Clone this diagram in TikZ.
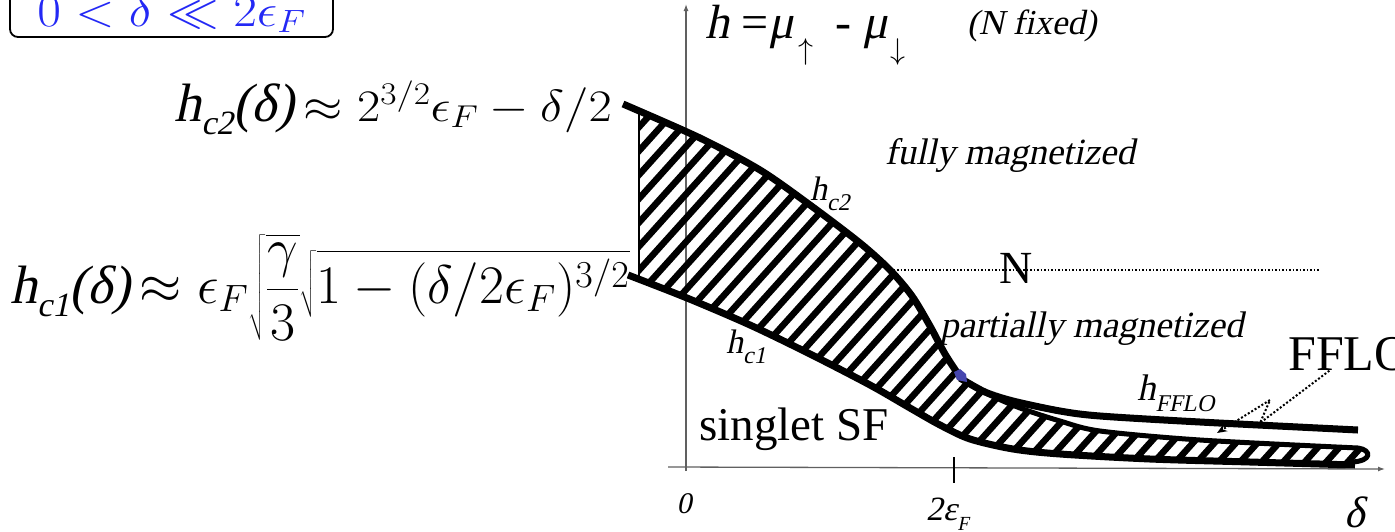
\RequirePackage{fix-cm}
\documentclass[tikz,border=0pt]{standalone}
\usepackage[no-math]{fontspec}
\setmainfont{Liberation Serif}[ItalicFont={Liberation Serif}, ItalicFeatures={FakeSlant=0.21}]
\usepackage{graphicx}
\usetikzlibrary{arrows.meta}

\definecolor{condblue}{RGB}{35,40,245}
\definecolor{critblue}{RGB}{70,70,175}
\newcommand{\fsz}[1]{\fontsize{#1}{#1}\selectfont}

\tikzset{
  axisline/.style={draw=gray!75!black, line width=1.3pt},
  phaseline/.style={line width=7pt, line join=round},
  hatchline/.style={line width=6.5pt},
  lbl/.style={inner sep=0pt},
  phase/.style={lbl, font=\fsz{37}\itshape},
}

\begin{document}
\begin{tikzpicture}[x=1pt, y=-1pt]
    \useasboundingbox (0,0) rectangle (1395,531);

    % axes
    \draw[axisline, -{Latex[length=7pt,width=5pt]}] (686,471) -- (686,4);
    \draw[axisline, -{Latex[length=7pt,width=5pt]}] (668,467) -- (1385,469);
    \draw[line width=2pt] (954,457) -- (954,483);

    % mixed phase (hatched)
    \begin{scope}
        \clip plot[smooth] coordinates {(639,111) (700,138) (760,170) (810,205) (860,243) (890,270) (912,296) (930,326) (945,354) (960,377)}
            -- plot[smooth] coordinates {(960,379) (990,395) (1020,408) (1060,421) (1100,431) (1200,440) (1358,448)}
            .. controls (1372,450) and (1372,461) .. (1352,462)
            -- plot[smooth] coordinates {(1352,463) (1250,460) (1150,457) (1060,452) (1013,447) (970,437) (940,423) (910,406) (870,383) (810,352) (750,323) (687,296) (639,278)}
            -- cycle;
        \foreach \i in {0,...,52}
            \draw[hatchline] ({260+21.5*\i},500) -- ++(600,-666);
    \end{scope}

    % phase boundaries
    \draw[phaseline] plot[smooth] coordinates {(623,104) (700,138) (760,170) (810,205) (860,243) (890,270) (912,296) (930,326) (945,354) (960,377)};
    \draw[phaseline] plot[smooth] coordinates {(960,378) (985,392) (1013,401) (1060,411) (1100,416) (1200,422) (1358,430)};
    \draw[phaseline, line width=5pt] plot[smooth] coordinates {(960,379) (990,395) (1020,408) (1060,421) (1100,431) (1200,440) (1358,448)}
        .. controls (1372,450) and (1372,461) .. (1352,462);
    \draw[phaseline] plot[smooth] coordinates {(628,275) (687,298) (750,325) (810,354) (870,385) (910,408) (940,425) (970,439) (1013,449) (1060,454) (1150,459) (1250,462) (1355,465)};
    \draw[line width=1.5pt] (639,111) -- (639,281);
    \fill[critblue] (954,372) -- (960,369) -- (966,374) -- (967,382) -- (957,380) -- cycle;

    % condition box
    \node[draw, rounded corners=8pt, line width=1.8pt, anchor=base, text=condblue,
          text height=40pt, text depth=8pt, inner xsep=0pt, inner ysep=3pt,
          minimum width=323pt] (cond) at (171.5,26)
        {\fsz{46}\scalebox{1.12}[1]{$0<\delta\ll2\epsilon_F$}};

    % critical fields
    \node[lbl, anchor=base east] (hctwoformula) at (612,121)
        {\fsz{54}\itshape h\raisebox{-0.25em}{\fsz{34}c2}(δ)\,\resizebox{308pt}{40pt}{$\approx 2^{3/2}\epsilon_F-\delta/2$}};
    \node[lbl, anchor=base west] (hconeformula) at (10,303)
        {\fsz{54}\itshape h\raisebox{-0.25em}{\fsz{34}c1}(δ)\,\resizebox{490pt}{!}{\fsz{34}$\displaystyle\approx \epsilon_F\sqrt{\frac{\gamma}{3}}\sqrt{1-(\delta/2\epsilon_F)^{3/2}}$}};

    % axis titles
    \node[lbl, anchor=base west] (hdef) at (705,38)
        {\fsz{48}\textit{h}\hspace{12pt}=\textit{μ}\hspace{4pt}\raisebox{-0.45em}{\fsz{30}$\uparrow$}\hspace{22pt}-\hspace{12pt}\textit{μ}\hspace{2pt}\raisebox{-0.45em}{\fsz{30}$\downarrow$}};
    \node[lbl, anchor=base west] (nfixed) at (967,34) {\fsz{35}\itshape (N fixed)};
    \node[lbl, anchor=base] (zero) at (684,513) {\fsz{30}\itshape 0};
    \node[lbl, anchor=base west] (twoeF) at (926,520) {\fsz{34}\itshape 2ε\raisebox{-0.3em}{\fsz{20}F}};
    \node[lbl, anchor=base] (delta) at (1355,527) {\fsz{44}\itshape δ};

    % phases
    \node[phase, anchor=base] (full) at (1010,164) {fully magnetized};
    \node[phase, anchor=base west] (partial) at (940,337) {partially magnetized};
    \node[lbl, anchor=base west] (singlet) at (699,440) {\fsz{47}singlet SF};
    \node[lbl, anchor=base west] (fflo) at (1288,370) {\fsz{50}FFLO};

    \coordinate (nleft) at (890,270);
    \coordinate (nright) at (1320,270);
    \draw[dotted, line width=1.5pt] (nleft) -- (nright);
    \node[lbl, anchor=base] (normal) at (1016,283) {\fsz{46}N};

    % boundary labels
    \node[lbl, anchor=base west] (hctwo) at (810,200) {\fsz{34}\itshape h\raisebox{-0.3em}{\fsz{24}c2}};
    \node[lbl, anchor=base west] (hcone) at (726,353) {\fsz{34}\itshape h\raisebox{-0.3em}{\fsz{24}c1}};
    \node[lbl, anchor=base west] (hfflo) at (1137,400) {\fsz{37}\itshape h\raisebox{-0.3em}{\fsz{24}FFLO}};

    % pointer to FFLO sliver
    \coordinate (bendA) at (1260,423);
    \coordinate (bendB) at (1270,400);
    \coordinate (ffloTip) at (1217,433);
    \draw[dotted, line width=2pt, -{Stealth[length=10pt,width=8pt,open]}]
        ([xshift=-20pt]fflo.south) -- (bendA) -- (bendB) -- (ffloTip);
\end{tikzpicture}
\end{document}
